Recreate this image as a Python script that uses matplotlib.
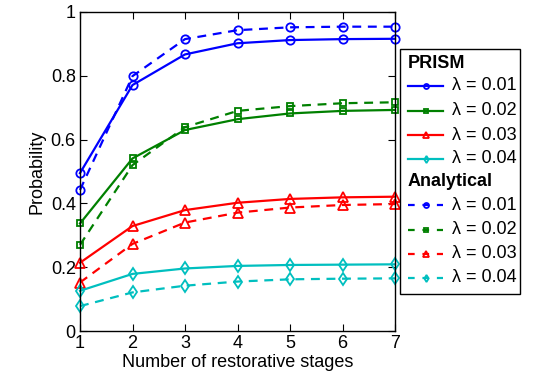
import matplotlib.pyplot as plt
from matplotlib.lines import Line2D
from matplotlib.patches import Rectangle

plt.rcParams['font.family'] = ['Liberation Sans', 'DejaVu Sans']

# data
stages = [1, 2, 3, 4, 5, 6, 7]
lambdas = ['0.01', '0.02', '0.03', '0.04']
prism = [
    [0.495, 0.771, 0.867, 0.902, 0.912, 0.915, 0.916],
    [0.337, 0.541, 0.630, 0.664, 0.682, 0.690, 0.693],
    [0.214, 0.329, 0.379, 0.402, 0.414, 0.419, 0.421],
    [0.126, 0.179, 0.196, 0.204, 0.207, 0.208, 0.209],
]
analytical = [
    [0.442, 0.799, 0.915, 0.943, 0.952, 0.954, 0.954],
    [0.270, 0.520, 0.639, 0.690, 0.705, 0.714, 0.717],
    [0.152, 0.273, 0.340, 0.371, 0.387, 0.395, 0.398],
    [0.078, 0.121, 0.142, 0.155, 0.162, 0.164, 0.165],
]

colors = ['#0000ff', '#008000', '#ff0000', '#00bfbf']
markers = ['o', 's', '^', 'd']
msizes = [6, 5, 7, 6]

W, H = 536, 375
fig = plt.figure(figsize=(W / 100, H / 100), dpi=100)
ax = fig.add_axes([80 / W, 1 - 331 / H, 315 / W, 319 / H])

for i in range(4):
    ax.plot(stages, prism[i], '-', color=colors[i], marker=markers[i],
            ms=msizes[i], mfc='none', mew=1.3, lw=1.6, clip_on=False)
    ax.plot(stages, analytical[i], '--', color=colors[i], marker=markers[i],
            ms=msizes[i], mfc='none', mew=1.3, lw=1.6, clip_on=False,
            dashes=(4, 3))

ax.set_xlim(1, 7)
ax.set_ylim(0, 1)
ax.set_xticks(stages)
ax.set_yticks([0, 0.2, 0.4, 0.6, 0.8, 1])
ax.set_yticklabels(['0', '0.2', '0.4', '0.6', '0.8', '1'])
ax.tick_params(direction='in', top=True, right=True, length=5, labelsize=13, pad=3)
ax.set_xlabel('Number of restorative stages', fontsize=13, labelpad=1)
ax.set_ylabel('Probability', fontsize=13, labelpad=4)
for s in ax.spines.values():
    s.set_linewidth(1.0)

# legend drawn by hand (MATLAB style with group headers)
def px(x, y):
    return x / W, 1 - y / H

x0, y0 = px(400, 49)
x1, y1 = px(520, 294)
fig.patches.append(Rectangle((x0, y1), x1 - x0, y0 - y1, transform=fig.transFigure,
                             fill=True, facecolor='white', edgecolor='black', lw=1.0,
                             zorder=5))
row_y = [64, 86, 110.5, 135, 159, 181.5, 205, 230, 254, 278]
hx0, hx1, tx = 408, 443, 452
groups = [('PRISM', '-', row_y[0:5]), ('Analytical', '--', row_y[5:10])]
for title, ls, ys in groups:
    fig.text(*px(hx0, ys[0]), title, fontsize=13, fontweight='bold', va='center',
             ha='left', zorder=6)
    for i in range(4):
        yy = ys[i + 1]
        xa, ya = px(hx0, yy)
        xb, _ = px(hx1, yy)
        ln = Line2D([xa, xb], [ya, ya], transform=fig.transFigure, color=colors[i],
                    ls=ls, lw=1.6, zorder=6)
        if ls == '--':
            ln.set_dashes((3, 3.5))
        fig.lines.append(ln)
        fig.lines.append(Line2D([(xa + xb) / 2], [ya], transform=fig.transFigure,
                                color=colors[i], marker=markers[i], ms=msizes[i] * 0.6,
                                mfc='none', mew=1.3, ls='none', zorder=7))
        fig.text(*px(tx, yy), '\u03bb = ' + lambdas[i], fontsize=13, va='center',
                 ha='left', zorder=6)

fig.savefig('out.png', dpi=100)
